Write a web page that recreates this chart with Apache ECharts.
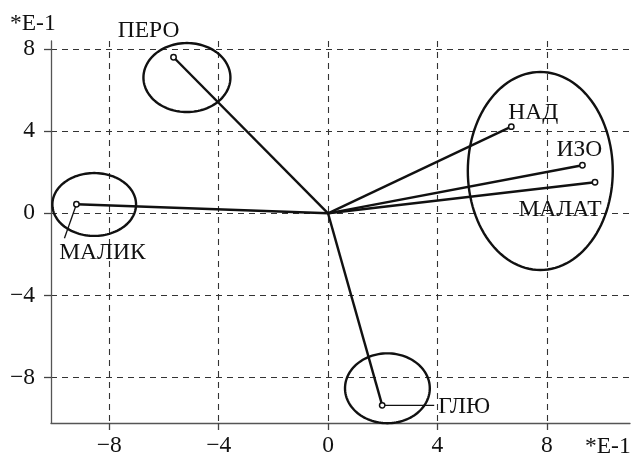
<!DOCTYPE html>
<html><head><meta charset="utf-8">
<script src="https://cdn.jsdelivr.net/npm/echarts@6/dist/echarts.min.js"></script>
<style>html,body{margin:0;padding:0;background:#fff}#c{width:635px;height:458px}
#pre{position:absolute;left:0;top:0;opacity:0;font-family:'Liberation Serif';font-size:22px}</style>
</head><body><span id="pre">МАЛИК −8 *E-1</span><div id="c"></div>
<script>
// vector end points (units of E-1)
const names = ['ПЕРО', 'МАЛИК', 'НАД', 'ИЗО', 'МАЛАТ', 'ГЛЮ'];
const xValues = [-5.65, -9.2, 6.7, 9.3, 9.76, 1.98];
const yValues = [7.6, 0.44, 4.22, 2.34, 1.51, -9.35];
// axis ticks
const tickValues = [-8, -4, 0, 4, 8];
const axisUnit = '*E-1';
// cluster ellipses (data units)
const clusterCx = [-5.16, -8.55, 7.76, 2.17];
const clusterCy = [6.61, 0.43, 2.06, -8.52];
const clusterRx = [1.59, 1.53, 2.65, 1.55];
const clusterRy = [1.68, 1.53, 4.82, 1.70];

// label placement (pixel offsets from the point) - style only
const labelStyle = {
  'ПЕРО':  {dx: -25, dy: -26, align: 'center'},
  'МАЛИК': {dx: 26,  dy: 49,  align: 'center', leader: [-12, 34]},
  'НАД':   {dx: 22,  dy: -14, align: 'center'},
  'ИЗО':   {dx: -3,  dy: -15, align: 'center'},
  'МАЛАТ': {dx: -35, dy: 28,  align: 'center'},
  'ГЛЮ':   {dx: 56,  dy: 1,   align: 'left', leader: [52, 0]}
};

const FONT = 'Liberation Serif';
const FS = 23.5;
const INK = '#111';
const fmt = v => String(v).replace('-', '\u2212');

const vectorData = names.map((n, i) => [xValues[i], yValues[i], n]);
const clusterData = clusterCx.map((c, i) => [c, clusterCy[i], clusterRx[i], clusterRy[i]]);

function draw() {
const chart = echarts.init(document.getElementById('c'), null, {renderer: 'canvas'});
chart.setOption({
  animation: false,
  backgroundColor: '#fff',
  textStyle: {fontFamily: FONT},
  grid: {left: 51, right: 5, top: 41, bottom: 35},
  xAxis: {
    type: 'value', min: -10.13, max: 11.04,
    axisLine: {onZero: false, lineStyle: {color: '#555', width: 1.3}},
    axisTick: {customValues: tickValues, length: 7, lineStyle: {color: '#444', width: 1.3}},
    axisLabel: {customValues: tickValues, formatter: fmt, fontFamily: FONT, fontSize: FS, color: '#111', margin: 11},
    splitLine: {show: true, lineStyle: {type: [6, 5], color: '#333', width: 1.1}}
  },
  yAxis: {
    type: 'value', min: -10.21, max: 8.39,
    axisLine: {onZero: false, lineStyle: {color: '#555', width: 1.3}},
    axisTick: {customValues: tickValues, length: 7, lineStyle: {color: '#444', width: 1.3}},
    axisLabel: {customValues: tickValues, formatter: fmt, fontFamily: FONT, fontSize: FS, color: '#111', margin: 16},
    splitLine: {show: true, lineStyle: {type: [6, 5], color: '#333', width: 1.1}}
  },
  graphic: [
    {type: 'text', left: 10, top: 12, style: {text: axisUnit, fontFamily: FONT, fontSize: FS, fill: '#111'}},
    {type: 'text', left: 585, top: 435, style: {text: axisUnit, fontFamily: FONT, fontSize: FS, fill: '#111'}}
  ],
  series: [
    {
      type: 'custom',
      coordinateSystem: 'cartesian2d',
      data: clusterData,
      silent: true,
      z: 3,
      renderItem: function (params, api) {
        const c = api.coord([api.value(0), api.value(1)]);
        const s = api.size([api.value(2), api.value(3)]);
        const pts = [];
        for (let k = 0; k < 120; k++) {
          const a = k / 120 * Math.PI * 2;
          pts.push([c[0] + s[0] * Math.cos(a), c[1] + s[1] * Math.sin(a)]);
        }
        return {type: 'polygon', shape: {points: pts}, style: {fill: 'none', stroke: INK, lineWidth: 2.4}};
      }
    },
    {
      type: 'custom',
      coordinateSystem: 'cartesian2d',
      data: vectorData,
      silent: true,
      z: 4,
      renderItem: function (params, api) {
        const name = vectorData[params.dataIndex][2];
        const o = api.coord([0, 0]);
        const p = api.coord([api.value(0), api.value(1)]);
        const ls = labelStyle[name];
        const children = [
          {type: 'line', shape: {x1: o[0], y1: o[1], x2: p[0], y2: p[1]}, style: {stroke: INK, lineWidth: 2.4}}
        ];
        if (ls.leader) {
          children.push({type: 'line', shape: {x1: p[0], y1: p[1], x2: p[0] + ls.leader[0], y2: p[1] + ls.leader[1]}, style: {stroke: INK, lineWidth: 1.3}});
        }
        children.push({type: 'circle', shape: {cx: p[0], cy: p[1], r: 2.7}, style: {fill: '#fff', stroke: INK, lineWidth: 1.5}});
        children.push({type: 'text', x: p[0] + ls.dx, y: p[1] + ls.dy,
          style: {text: name, fontFamily: FONT, fontSize: FS, fill: '#111', align: ls.align, verticalAlign: 'middle'}});
        return {type: 'group', children: children};
      }
    }
  ]
});
}
let drawn = false;
function go() { if (!drawn) { drawn = true; draw(); } }
if (document.fonts && document.fonts.load) {
  document.fonts.load('22px "Liberation Serif"', 'МАЛИК').then(go, go);
  setTimeout(go, 1500);
} else { go(); }
</script>
</body></html>
